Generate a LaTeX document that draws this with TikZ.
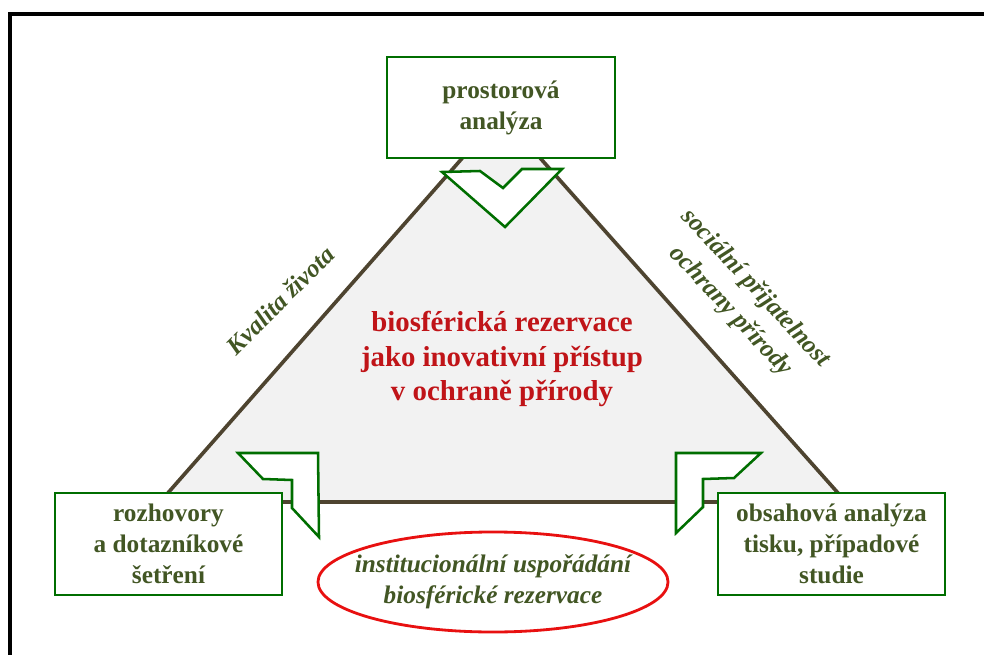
\documentclass[tikz,border=0pt]{standalone}
\usepackage{fontspec}
\setmainfont{Liberation Serif}
\usetikzlibrary{shapes.geometric}
\definecolor{boxgreen}{RGB}{0,110,0}
\definecolor{textgreen}{RGB}{66,86,36}
\definecolor{edgebrown}{RGB}{78,68,48}
\definecolor{areagray}{RGB}{242,242,242}
\definecolor{titlered}{RGB}{192,20,24}
\definecolor{ringred}{RGB}{232,16,16}
\tikzset{
  methodbox/.style={rectangle, draw=boxgreen, line width=2pt, fill=white,
                    align=center, text=textgreen, inner sep=0pt,
                    font=\fontsize{18}{22}\selectfont\bfseries},
  notch/.style={draw=boxgreen, line width=1.8pt, fill=white},
  sideline/.style={draw=edgebrown, line width=2.6pt, fill=areagray, line join=round},
  sidelabel/.style={text=textgreen, align=center,
                    font=\fontsize{18}{24}\selectfont\bfseries\itshape},
  centertext/.style={text=titlered, align=center,
                     font=\fontsize{20.5}{24.5}\selectfont\bfseries},
  topicring/.style={draw=ringred, line width=2pt, fill=white},
  topictext/.style={align=center, text=textgreen,
                    font=\fontsize{18}{22}\selectfont\bfseries\itshape},
}
\begin{document}
\begin{tikzpicture}[x=0.025cm, y=-0.025cm]
  \useasboundingbox (0,0) rectangle (984,655);
  % frame
  \draw[black, line width=2.2pt] (10,655) -- (10,14) -- (984,14);

  % triangle
  \coordinate (apex) at (501,114);
  \coordinate (baseL) at (160,502);
  \coordinate (baseR) at (846,502);
  \draw[sideline] (apex) -- (baseL) -- (baseR) -- cycle;

  % corner marks
  \draw[notch] (442,172) -- (480,171) -- (503,188) -- (522,169) -- (562,169) -- (505,227) -- cycle;
  \draw[notch] (238,453) -- (318,453) -- (319,537) -- (292,508) -- (292,480) -- (263,479) -- cycle;
  \draw[notch] (676,453) -- (761,453) -- (734,478) -- (703,479) -- (703,507) -- (676,533) -- cycle;

  % methods
  \node[methodbox, minimum width=5.7cm, minimum height=2.525cm] (spatial) at (501,107.5)
    {prostorová\\analýza};
  \node[methodbox, minimum width=5.675cm, minimum height=2.55cm] (survey) at (168.5,544)
    {rozhovory\\a dotazníkové\\šetření};
  \node[methodbox, minimum width=5.675cm, minimum height=2.55cm] (press) at (831.5,544)
    {obsahová analýza\\tisku, případové\\studie};

  % topics
  \node[centertext] (reserve) at (502,359)
    {biosférická rezervace\\jako inovativní přístup\\v ochraně přírody};
  \node[sidelabel, rotate=45] (quality) at (280,300) {Kvalita života};
  \node[sidelabel, rotate=-47] (accept) at (743,300)
    {sociální přijatelnost\\ochrany přírody};
  \coordinate (ring) at (493,582);
  \draw[topicring] (ring) ellipse [x radius=4.375cm, y radius=1.25cm];
  \node[topictext] (institution) at (ring)
    {institucionální uspořádání\\biosférické rezervace};
\end{tikzpicture}
\end{document}
